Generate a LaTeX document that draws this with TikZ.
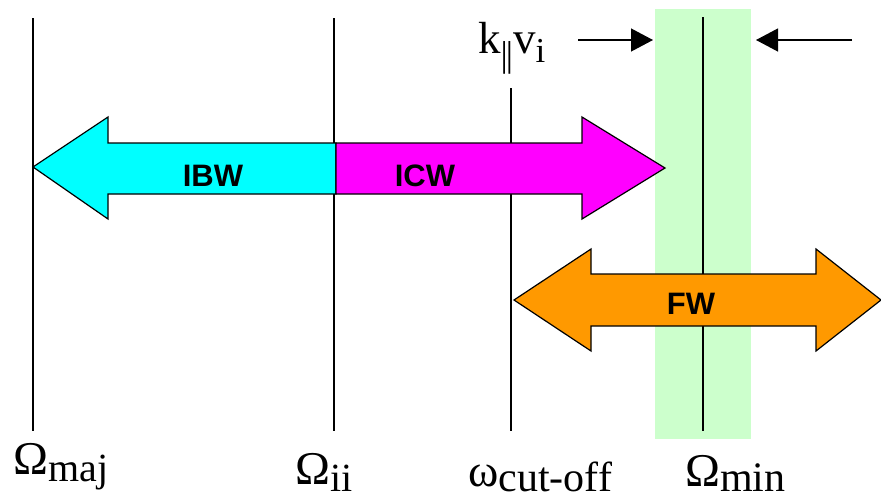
\documentclass[tikz,border=0pt]{standalone}
\usepackage{fontspec}
\setmainfont{Liberation Serif}
\newfontfamily\arialfont{Liberation Sans}
\usetikzlibrary{arrows.meta}
\definecolor{ibwcol}{RGB}{0,255,255}
\definecolor{icwcol}{RGB}{255,0,255}
\definecolor{fwcol}{RGB}{255,153,0}
\definecolor{bandcol}{RGB}{204,255,204}
\tikzset{
  vline/.style={line width=1.2pt, black},
  bigarrow/.style={draw=black, line width=1.2pt, line join=miter},
  wavelabel/.style={inner sep=0pt, font=\arialfont\bfseries\fontsize{31}{31}\selectfont},
  axlabel/.style={inner sep=0pt, anchor=base west},
  ptr/.style={line width=1.2pt, -{Triangle[length=22pt,width=23pt]}}
}
\begin{document}
\begin{tikzpicture}[x=1pt,y=-1pt]
\useasboundingbox (0,0) rectangle (881,501);
% green band
\fill[bandcol] (655,9) rectangle (751,439);
% vertical lines
\draw[vline] (33,18) -- (33,431);
\draw[vline] (334,18) -- (334,431);
\draw[vline] (511,88) -- (511,431);
\draw[vline] (703,17) -- (703,431);
% IBW arrow
\draw[bigarrow, fill=ibwcol] (33,167) -- (108,117) -- (108,143) -- (336,143) -- (336,194) -- (108,194) -- (108,219) -- cycle;
% ICW arrow
\draw[bigarrow, fill=icwcol] (336,143) -- (582,143) -- (582,117) -- (665,168) -- (582,219) -- (582,194) -- (336,194) -- cycle;
% FW arrow
\draw[bigarrow, fill=fwcol] (514,300) -- (591,249) -- (591,274) -- (816,274) -- (816,249) -- (881,300) -- (816,351) -- (816,326) -- (591,326) -- (591,351) -- cycle;
\node[wavelabel] (ibw) at (213,176) {IBW};
\node[wavelabel] (icw) at (425,176) {ICW};
\node[wavelabel] (fw) at (691,304) {FW};
% k|| v_i label and pointers
\node[axlabel] (kv) at (478,53) {\fontsize{45}{45}\selectfont k\raisebox{-13pt}{\fontsize{36}{36}\selectfont|\kern-2pt|}v\raisebox{-9pt}{\fontsize{35}{35}\selectfont i}};
\coordinate (p1s) at (578,40);
\coordinate (p1e) at (653,40);
\coordinate (p2s) at (852,40);
\coordinate (p2e) at (756,40);
\draw[ptr] (p1s) -- (p1e);
\draw[ptr] (p2s) -- (p2e);
% axis labels
\node[axlabel] (omaj) at (13,474) {\fontsize{47}{47}\selectfont Ω\raisebox{-7pt}{\fontsize{40}{40}\selectfont maj}};
\node[axlabel] (oii) at (295,484) {\fontsize{47}{47}\selectfont Ω\raisebox{-7pt}{\fontsize{40}{40}\selectfont ii}};
\node[axlabel] (wco) at (468,486) {\fontsize{46}{46}\selectfont ω\raisebox{-5pt}{\fontsize{42}{42}\selectfont cut-off}};
\node[axlabel] (omin) at (685,486) {\fontsize{47}{47}\selectfont Ω\raisebox{-5pt}{\fontsize{42}{42}\selectfont min}};
\end{tikzpicture}
\end{document}
